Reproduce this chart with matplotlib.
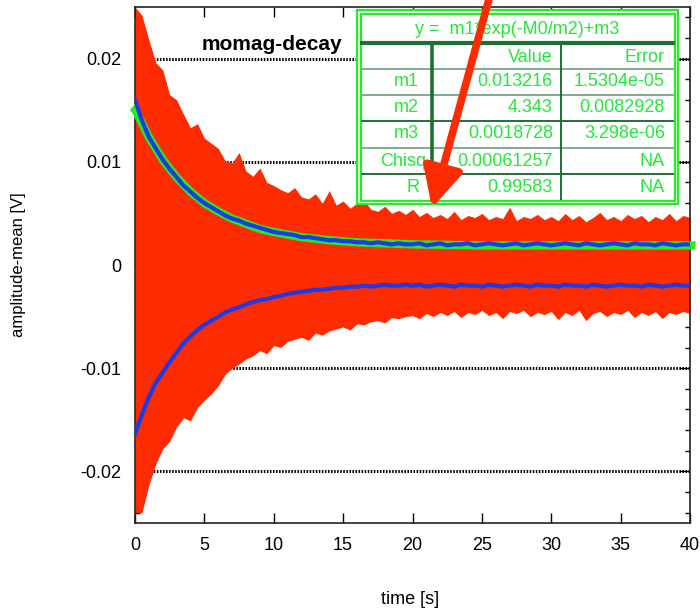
import numpy as np
import matplotlib
matplotlib.use('Agg')
import matplotlib.pyplot as plt
from matplotlib.patches import Rectangle

plt.rcParams['font.family'] = ['Liberation Sans', 'DejaVu Sans']

# time grid of the read-off envelopes [s]
t = np.arange(0, 40.5, 0.5)

# red raw signal: upper / lower peak envelope [V]
red_hi = [0.0250, 0.0242, 0.0218, 0.0196, 0.0189, 0.0165, 0.0160, 0.0146, 0.0133, 0.0137,
          0.0123, 0.0118, 0.0113, 0.0101, 0.0099, 0.0109, 0.0091, 0.0086, 0.0094, 0.0080,
          0.0077, 0.0073, 0.0070, 0.0075, 0.0066, 0.0064, 0.0069, 0.0060, 0.0072, 0.0058,
          0.0062, 0.0055, 0.0060, 0.0063, 0.0054, 0.0052, 0.0057, 0.0050, 0.0053, 0.0049,
          0.0054, 0.0047, 0.0051, 0.0046, 0.0049, 0.0045, 0.0052, 0.0044, 0.0048, 0.0046,
          0.0050, 0.0044, 0.0047, 0.0045, 0.0056, 0.0043, 0.0047, 0.0045, 0.0049, 0.0044,
          0.0047, 0.0043, 0.0050, 0.0044, 0.0048, 0.0042, 0.0046, 0.0051, 0.0044, 0.0047,
          0.0043, 0.0049, 0.0045, 0.0048, 0.0042, 0.0047, 0.0044, 0.0050, 0.0043, 0.0048,
          0.0046]
red_lo = [-0.0240, -0.0240, -0.0213, -0.0193, -0.0178, -0.0171, -0.0157, -0.0148, -0.0151, -0.0138,
          -0.0131, -0.0125, -0.0117, -0.0106, -0.0100, -0.0096, -0.0091, -0.0088, -0.0083, -0.0086,
          -0.0078, -0.0080, -0.0074, -0.0072, -0.0070, -0.0073, -0.0066, -0.0068, -0.0064, -0.0062,
          -0.0060, -0.0063, -0.0057, -0.0058, -0.0055, -0.0054, -0.0056, -0.0051, -0.0052, -0.0050,
          -0.0049, -0.0052, -0.0047, -0.0050, -0.0046, -0.0049, -0.0045, -0.0051, -0.0046, -0.0048,
          -0.0044, -0.0049, -0.0046, -0.0052, -0.0045, -0.0047, -0.0044, -0.0050, -0.0046, -0.0048,
          -0.0045, -0.0053, -0.0046, -0.0049, -0.0044, -0.0054, -0.0047, -0.0045, -0.0050, -0.0046,
          -0.0048, -0.0044, -0.0051, -0.0046, -0.0049, -0.0045, -0.0052, -0.0046, -0.0048, -0.0045,
          -0.0047]

# blue: detected upper / lower amplitude [V]
blue_hi = [0.0160, 0.0140, 0.0124, 0.0113, 0.0102, 0.0093, 0.0085, 0.0077, 0.0071, 0.0065,
           0.0060, 0.0056, 0.0052, 0.0048, 0.0045, 0.0043, 0.0040, 0.0038, 0.0036, 0.0034,
           0.0032, 0.0031, 0.0030, 0.0029, 0.0027, 0.0027, 0.0026, 0.0025, 0.0024, 0.0024,
           0.0023, 0.0023, 0.0022, 0.0022, 0.0021, 0.0022, 0.0021, 0.0020, 0.0021, 0.0020,
           0.0020, 0.0021, 0.0019, 0.0020, 0.0021, 0.0019, 0.0020, 0.0020, 0.0021, 0.0019,
           0.0020, 0.0021, 0.0020, 0.0019, 0.0020, 0.0021, 0.0019, 0.0020, 0.0021, 0.0020,
           0.0019, 0.0020, 0.0021, 0.0020, 0.0019, 0.0021, 0.0020, 0.0019, 0.0020, 0.0021,
           0.0020, 0.0019, 0.0021, 0.0020, 0.0020, 0.0019, 0.0021, 0.0020, 0.0019, 0.0020,
           0.0020]
blue_lo = [-0.0164, -0.0145, -0.0128, -0.0114, -0.0104, -0.0094, -0.0085, -0.0076, -0.0069, -0.0063,
           -0.0058, -0.0054, -0.0050, -0.0046, -0.0043, -0.0041, -0.0038, -0.0036, -0.0034, -0.0033,
           -0.0031, -0.0030, -0.0028, -0.0027, -0.0026, -0.0025, -0.0024, -0.0024, -0.0023, -0.0022,
           -0.0022, -0.0021, -0.0021, -0.0020, -0.0021, -0.0020, -0.0019, -0.0020, -0.0020, -0.0019,
           -0.0020, -0.0019, -0.0021, -0.0020, -0.0019, -0.0020, -0.0021, -0.0019, -0.0020, -0.0020,
           -0.0021, -0.0019, -0.0020, -0.0021, -0.0020, -0.0019, -0.0020, -0.0021, -0.0019, -0.0020,
           -0.0020, -0.0021, -0.0019, -0.0020, -0.0020, -0.0021, -0.0019, -0.0020, -0.0021, -0.0020,
           -0.0019, -0.0020, -0.0020, -0.0021, -0.0019, -0.0020, -0.0021, -0.0020, -0.0019, -0.0020,
           -0.0020]

# green fit curve
fit_t = [-0.2, 0, 1, 2, 3, 4, 5, 6, 7, 8, 9, 10, 12, 14, 16, 18, 20, 25, 30, 35, 40, 40.4]
fit_y = [0.0153, 0.0151, 0.0124, 0.0102, 0.0085, 0.0071, 0.0060, 0.0052, 0.0045, 0.0040,
         0.0035, 0.0032, 0.0027, 0.0024, 0.0022, 0.0021, 0.0020, 0.0019, 0.0019, 0.0019,
         0.0019, 0.0019]

# fit table
fit_formula = 'y =  m1*exp(-M0/m2)+m3'
tab_head = ['', 'Value', 'Error']
tab_rows = [['m1', '0.013216', '1.5304e-05'],
            ['m2', '4.343', '0.0082928'],
            ['m3', '0.0018728', '3.298e-06'],
            ['Chisq', '0.00061257', 'NA'],
            ['R', '0.99583', 'NA']]

RED = '#ff2b00'
BLUE = '#1c3be6'
GREEN = '#22ee22'
TXT_G = '#22e83a'
DARK_G = '#1f6f35'
GREY_G = '#7fae8c'

fig = plt.figure(figsize=(7, 6.12), dpi=100)
ax = fig.add_axes([135 / 700, 89 / 612, 555 / 700, 516 / 612])

ax.fill_between(t, red_lo, red_hi, color=RED, lw=0, zorder=2)
ax.plot(fit_t, fit_y, color=GREEN, lw=6, solid_capstyle='butt', zorder=3, clip_on=False)
ax.plot(t, blue_hi, color=BLUE, lw=3, zorder=4)
ax.plot(t, blue_lo, color=BLUE, lw=3, zorder=4)

ax.set_xlim(0, 40)
ax.set_ylim(-0.025, 0.025)
ax.set_xticks(np.arange(0, 41, 5))
ax.set_yticks([-0.02, -0.01, 0, 0.01, 0.02])
ax.set_yticklabels(['-0.02', '-0.01', '0', '0.01', '0.02'])
ax.set_yticks(np.arange(-0.024, 0.0241, 0.002), minor=True)
ax.tick_params(which='both', direction='in', top=True, right=True, labelsize=13, pad=10)
ax.tick_params(which='major', length=7, width=1)
ax.tick_params(which='minor', length=3.5, width=1)
ax.tick_params(axis='x', which='minor', bottom=False, top=False)
for sp in ax.spines.values():
    sp.set_linewidth(1.2)
    sp.set_color('#222222')

ax.grid(axis='y', which='major', color='black', lw=2.2, linestyle=(0, (0.5, 0.5)), zorder=1)
ax.set_axisbelow(True)

ax.set_xlabel('time [s]', fontsize=13)
ax.set_ylabel('amplitude-mean [V]', fontsize=12)
ax.xaxis.set_label_coords(0.495, -0.132)
ax.yaxis.set_label_coords(-0.196, 0.5)

ax.text(0.373, 0.9167, 'momag-decay', transform=ax.transAxes, ha='right', va='baseline',
        fontsize=15, fontweight='bold', zorder=5)

# overlay in figure pixels for the fit table and the arrow
ov = fig.add_axes([0, 0, 1, 1], facecolor='none')
ov.set_xlim(0, 700)
ov.set_ylim(612, 0)
ov.axis('off')

ov.add_patch(Rectangle((357, 10), 321, 194, facecolor='white', edgecolor=GREEN, lw=1.6))
ov.add_patch(Rectangle((360.5, 13.5), 314, 187, facecolor='none', edgecolor=GREEN, lw=1.6))

row_y = [69, 95, 121, 148, 174]
row_c = [GREY_G, GREY_G, DARK_G, GREY_G, DARK_G]
for yy, cc in zip(row_y, row_c):
    ov.plot([362, 673], [yy, yy], color=cc, lw=1.4)
ov.plot([362, 673], [43, 43], color=DARK_G, lw=3)
ov.plot([432, 432], [43, 199], color=DARK_G, lw=2.6)
ov.plot([561, 561], [43, 199], color=DARK_G, lw=1.4)

ov.text(517, 30, fit_formula, color=TXT_G, fontsize=13, ha='center', va='center')
col_x = [419, 553, 665]
row_mid = [57, 82, 108, 134, 161, 187]
for j, s in enumerate(tab_head):
    ov.text(col_x[j], row_mid[0], s, color=TXT_G, fontsize=13, ha='right', va='center')
for i, row in enumerate(tab_rows):
    for j, s in enumerate(row):
        x = col_x[j]
        if s == 'Chisq':
            x = 426
        ov.text(x, row_mid[i + 1], s, color=TXT_G, fontsize=13, ha='right', va='center')

ov.annotate('', xy=(432, 208), xytext=(492, -12), annotation_clip=False,
            arrowprops=dict(arrowstyle='-|>,head_length=1.2,head_width=0.6',
                            mutation_scale=20, lw=5.5, color=RED,
                            shrinkA=0, shrinkB=0))

fig.savefig('out.png', dpi=100)
